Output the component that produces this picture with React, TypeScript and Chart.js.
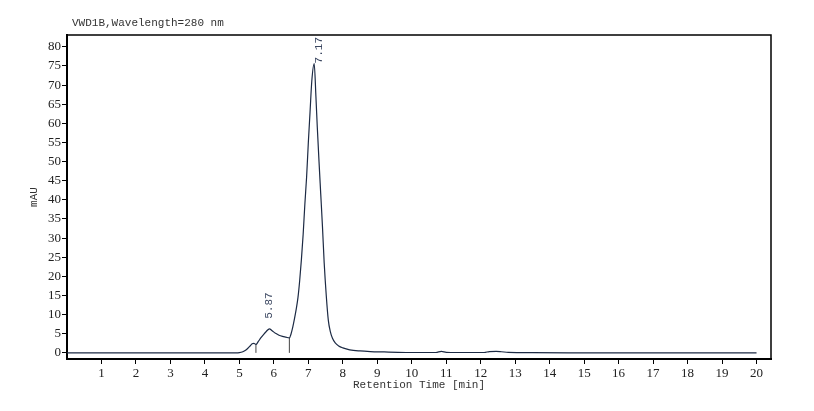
import React, { useEffect, useRef } from "react";
import { Chart, registerables } from "chart.js";

Chart.register(...registerables);

// retention time [min] and signal [mAU]
const times = [
  0, 4.9, 5.0, 5.1, 5.2, 5.3, 5.37, 5.42, 5.48, 5.55, 5.62, 5.7, 5.78, 5.87,
  5.95, 6.05, 6.15, 6.25, 6.35, 6.45, 6.5, 6.55, 6.6, 6.65, 6.7, 6.75, 6.8,
  6.85, 6.9, 6.95, 7.0, 7.05, 7.1, 7.17, 7.22, 7.26, 7.31, 7.36, 7.41, 7.46,
  7.52, 7.58, 7.64, 7.7, 7.78, 7.88, 8.0, 8.2, 8.5, 8.8, 9.2, 9.6, 10.0, 10.7,
  10.86, 11.0, 11.3, 12.1, 12.25, 12.45, 12.6, 12.8, 13.5, 15, 20,
];
const signal = [
  0, 0, 0.05, 0.3, 0.8, 1.7, 2.4, 2.5, 2.2, 3.0, 3.9, 4.8, 5.6, 6.3,
  5.8, 5.1, 4.6, 4.3, 4.1, 3.9, 5.0, 6.8, 9.0, 11.5, 14.5, 19, 24.5,
  31, 39, 46, 55, 63, 71, 75.6, 67, 59, 50, 41.5, 33, 23.5,
  15, 8.5, 5.5, 3.8, 2.6, 1.8, 1.3, 0.8, 0.5, 0.35, 0.25, 0.15, 0.1, 0.1,
  0.4, 0.15, 0.1, 0.1, 0.35, 0.4, 0.3, 0.12, 0.05, 0.02, 0,
];

// labelled peaks
const peakTimes = [5.87, 7.17];
const peakValues = [6.3, 75.6];
const peakLabels = ["5.87", "7.17"];

// integration drop lines
const dropTimes = [5.48, 6.45];
const dropValues = [2.2, 3.9];

const xTicks = [1, 2, 3, 4, 5, 6, 7, 8, 9, 10, 11, 12, 13, 14, 15, 16, 17, 18, 19, 20];
const yTicks = [0, 5, 10, 15, 20, 25, 30, 35, 40, 45, 50, 55, 60, 65, 70, 75, 80];

const titleText = "VWD1B,Wavelength=280 nm";
const xTitle = "Retention Time [min]";
const yTitle = "mAU";

const monoFont = "'Liberation Mono', monospace";
const serifFont = "'Liberation Serif', serif";

const frameAndLabels = {
  id: "frameAndLabels",
  afterDraw(chart: any) {
    const { ctx, chartArea, scales } = chart;
    ctx.save();
    // top and right frame
    ctx.strokeStyle = "#000";
    ctx.lineWidth = 1.5;
    ctx.beginPath();
    ctx.moveTo(chartArea.left, chartArea.top);
    ctx.lineTo(chartArea.right, chartArea.top);
    ctx.lineTo(chartArea.right, chartArea.bottom);
    ctx.stroke();

    // signal title
    ctx.fillStyle = "#333";
    ctx.font = "11px " + monoFont;
    ctx.textAlign = "left";
    ctx.textBaseline = "alphabetic";
    ctx.fillText(titleText, chartArea.left + 5, 25.5);

    // peak labels, rotated
    ctx.fillStyle = "#3a4660";
    peakTimes.forEach((t, i) => {
      let x = scales.x.getPixelForValue(t);
      const y = scales.y.getPixelForValue(peakValues[i]);
      const w = ctx.measureText(peakLabels[i]).width;
      let bottom = y - 10;
      if (bottom - w < chartArea.top + 2) {
        bottom = chartArea.top + 2 + w;
        x += 5;
      }
      ctx.save();
      ctx.translate(x, bottom);
      ctx.rotate(-Math.PI / 2);
      ctx.textAlign = "left";
      ctx.textBaseline = "middle";
      ctx.fillText(peakLabels[i], 0, 0);
      ctx.restore();
    });
    ctx.restore();
  },
};

const App: React.FC = () => {
  const chartRef = useRef<HTMLCanvasElement>(null);
  const chartInstance = useRef<Chart | null>(null);

  useEffect(() => {
    if (!chartRef.current) return;
    const ctx = chartRef.current.getContext("2d");
    if (!ctx) return;
    if (chartInstance.current) chartInstance.current.destroy();

    const dropSets = dropTimes.map((t, i) => ({
      data: [
        { x: t, y: 0 },
        { x: t, y: dropValues[i] },
      ],
      borderColor: "#444",
      borderWidth: 1,
      pointRadius: 0,
    }));

    chartInstance.current = new Chart(ctx, {
      type: "line",
      data: {
        datasets: [
          {
            data: times.map((t, i) => ({ x: t, y: signal[i] })),
            borderColor: "#1c2a44",
            borderWidth: 1.2,
            pointRadius: 0,
            cubicInterpolationMode: "monotone",
          },
          ...dropSets,
        ],
      },
      options: {
        responsive: true,
        maintainAspectRatio: false,
        animation: false,
        layout: { padding: { top: 35, right: 43, left: 0, bottom: 0 } },
        plugins: {
          legend: { display: false },
          tooltip: { enabled: false },
        },
        scales: {
          x: {
            type: "linear",
            min: 0,
            max: 20.42,
            afterBuildTicks: (s: any) => {
              s.ticks = xTicks.map((v) => ({ value: v }));
            },
            afterFit: (s: any) => {
              s.height = 52;
            },
            grid: { drawOnChartArea: false, drawTicks: true, tickLength: 5, color: "#000" },
            border: { color: "#000", width: 2 },
            ticks: {
              autoSkip: false,
              maxRotation: 0,
              padding: 2,
              color: "#222",
              font: { family: serifFont, size: 13 },
            },
            title: {
              display: true,
              text: xTitle,
              color: "#333",
              font: { family: monoFont, size: 11 },
              padding: { top: 0, bottom: 19 },
            },
          },
          y: {
            type: "linear",
            min: -1.6,
            max: 83.1,
            afterBuildTicks: (s: any) => {
              s.ticks = yTicks.map((v) => ({ value: v }));
            },
            afterFit: (s: any) => {
              s.width = 67;
            },
            grid: { drawOnChartArea: false, drawTicks: true, tickLength: 5, color: "#000" },
            border: { color: "#000", width: 2 },
            ticks: {
              autoSkip: false,
              padding: 1,
              color: "#222",
              font: { family: serifFont, size: 13 },
            },
            title: {
              display: true,
              text: yTitle,
              color: "#333",
              font: { family: monoFont, size: 11 },
              padding: { top: 27, bottom: 0 },
            },
          },
        },
      },
      plugins: [frameAndLabels],
    });

    return () => {
      if (chartInstance.current) {
        chartInstance.current.destroy();
        chartInstance.current = null;
      }
    };
  }, []);

  return (
    <div
      style={{
        position: "absolute",
        left: 0,
        top: 0,
        width: "814px",
        height: "411px",
        background: "#fff",
      }}
    >
      <canvas ref={chartRef} />
    </div>
  );
};

export default App;
